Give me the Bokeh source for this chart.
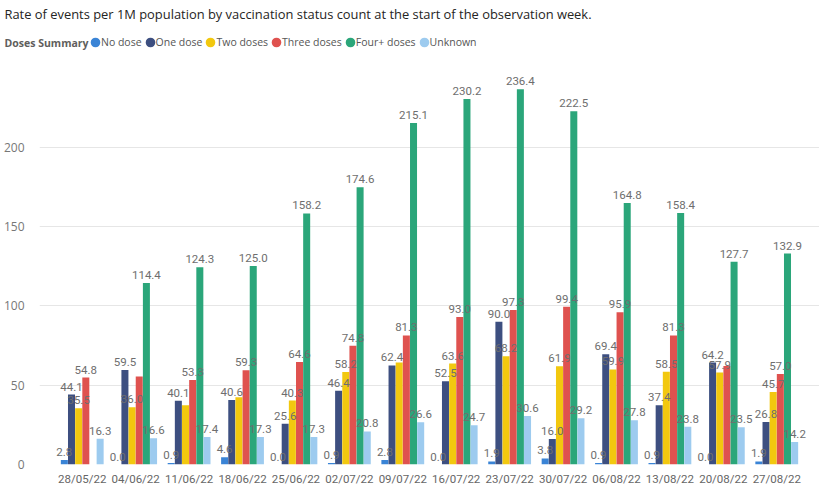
import numpy as np
from bokeh.plotting import figure
from bokeh.layouts import column
from bokeh.models import (ColumnDataSource, FactorRange, LabelSet, Legend, LegendItem,
                          Label, FixedTicker, Range1d)
from bokeh.core.properties import value
from bokeh.transform import dodge
from bokeh.embed import file_html
from bokeh.resources import INLINE

# ---------------- data ----------------
dates = ["28/05/22", "04/06/22", "11/06/22", "18/06/22", "25/06/22", "02/07/22", "09/07/22",
         "16/07/22", "23/07/22", "30/07/22", "06/08/22", "13/08/22", "20/08/22", "27/08/22"]
series_names = ["No dose", "One dose", "Two doses", "Three doses", "Four+ doses", "Unknown"]
no_dose = [2.8, 0.0, 0.9, 4.6, 0.0, 0.9, 2.8, 0.0, 1.9, 3.8, 0.9, 0.9, 0.0, 1.9]
one_dose = [44.1, 59.5, 40.1, 40.6, 25.6, 46.4, 62.4, 52.5, 90.0, 16.0, 69.4, 37.4, 64.2, 26.8]
two_doses = [35.5, 36.0, 37.4, 42.3, 40.3, 58.2, 64.3, 63.6, 68.2, 61.9, 59.9, 58.5, 57.9, 45.7]
three_doses = [54.8, 55.4, 53.3, 59.3, 64.6, 74.8, 81.3, 93.0, 97.3, 99.4, 95.9, 81.3, 62.1, 57.0]
four_plus = [np.nan, 114.4, 124.3, 125.0, 158.2, 174.6, 215.1, 230.2, 236.4, 222.5, 164.8, 158.4, 127.7, 132.9]
unknown = [16.3, 16.6, 17.4, 17.3, 17.3, 20.8, 26.6, 24.7, 30.6, 29.2, 27.8, 23.8, 23.5, 14.2]
y_ticks = [0, 50, 100, 150, 200]
# data labels that the original chart hides (overlap)
hidden_labels = {("11/06/22", "Two doses"), ("18/06/22", "Two doses"), ("09/07/22", "Two doses"),
                 ("04/06/22", "Three doses"), ("20/08/22", "Three doses")}

series_values = [no_dose, one_dose, two_doses, three_doses, four_plus, unknown]
colors = ["#3A84D6", "#3D4F80", "#F2C80F", "#DF524F", "#2BA67A", "#9DCBEF"]

TITLE = "Rate of events per 1M population by vaccination status count at the start of the observation week."
LEGEND_TITLE = "Doses Summary"

W = 819
HEAD_H = 58
MAIN_H = 430

# ---------------- header (title + legend) ----------------
h = figure(width=W, height=HEAD_H, x_range=Range1d(0, 1), y_range=Range1d(0, 1),
           output_backend="svg", toolbar_location=None, x_axis_location=None,
           y_axis_location=None, min_border=0, frame_align=False)
h.outline_line_color = None
h.xgrid.grid_line_color = None
h.ygrid.grid_line_color = None
h.add_layout(Label(x=4, y=HEAD_H - 13, x_units="screen", y_units="screen", text=TITLE,
                   text_font="Open Sans", text_font_size="12.9px", text_color="#252423",
                   text_baseline="middle", text_align="left"))
h.add_layout(Label(x=4, y=HEAD_H - 42, x_units="screen", y_units="screen", text=LEGEND_TITLE,
                   text_font="Open Sans", text_font_size="10.5px", text_font_style="bold",
                   text_color="#605E5C", text_baseline="middle", text_align="left"))
leg_items = []
for name, col in zip(series_names, colors):
    er = h.ellipse(x=[-5], y=[-5], width=10, height=10, width_units="screen",
                   height_units="screen", fill_color=col, line_color=None)
    lr = h.scatter(x=[-5], y=[-5], marker="circle", size=10, fill_color=col, line_color=None)
    leg_items.append(LegendItem(label=name, renderers=[er, lr]))
legend = Legend(items=leg_items, orientation="horizontal", location=(89, HEAD_H - 42 - 8),
                label_text_font="Open Sans", label_text_font_size="10.5px",
                label_text_color="#555555", glyph_width=12, glyph_height=12,
                label_standoff=0, spacing=2, padding=0, margin=0, label_height=16,
                border_line_color=None, background_fill_alpha=0)
h.add_layout(legend, "center")

# ---------------- main chart ----------------
p = figure(x_range=FactorRange(factors=dates, range_padding=0.3, range_padding_units="absolute"),
           y_range=Range1d(0, 252), width=W, height=MAIN_H, output_backend="svg",
           toolbar_location=None, min_border_left=0, min_border_right=0,
           min_border_bottom=0, min_border_top=6, frame_align=False)
p.outline_line_color = None

bar_w = 0.134
for i, (name, vals, col) in enumerate(zip(series_names, series_values, colors)):
    off = (i - 2.5) * bar_w
    labels = []
    for d, v in zip(dates, vals):
        if np.isnan(v) or (d, name) in hidden_labels:
            labels.append("")
        else:
            labels.append(f"{v:.1f}")
    src = ColumnDataSource(dict(date=dates, val=vals, lab=labels))
    p.vbar(x=dodge("date", off, range=p.x_range), top="val", width=bar_w * 0.98,
           source=src, fill_color=col, line_color=None)
    ls = LabelSet(x=dodge("date", off, range=p.x_range), y="val", text="lab", source=src,
                  text_align="center", text_baseline="bottom", y_offset=4,
                  text_font=value("Roboto"), text_font_size=value("11.5px"),
                  text_color=value("#6E6E6E"))
    p.add_layout(ls)

p.yaxis.ticker = FixedTicker(ticks=y_ticks)
p.yaxis.axis_line_color = None
p.yaxis.major_tick_line_color = None
p.yaxis.minor_tick_line_color = None
p.yaxis.major_label_text_font = "Open Sans"
p.yaxis.major_label_text_font_size = "12px"
p.yaxis.major_label_text_color = "#777777"
p.yaxis.major_label_standoff = 9

p.xaxis.axis_line_color = None
p.xaxis.major_tick_line_color = None
p.xaxis.minor_tick_line_color = None
p.xaxis.major_label_text_font = "Roboto"
p.xaxis.major_label_text_font_size = "11.5px"
p.xaxis.major_label_text_color = "#666666"
p.xaxis.major_label_standoff = 1

p.xgrid.grid_line_color = None
p.ygrid.grid_line_color = "#E6E6E6"
p.ygrid.grid_line_width = 1

open("out.html", "w").write(file_html(column(h, p, spacing=0), INLINE))
